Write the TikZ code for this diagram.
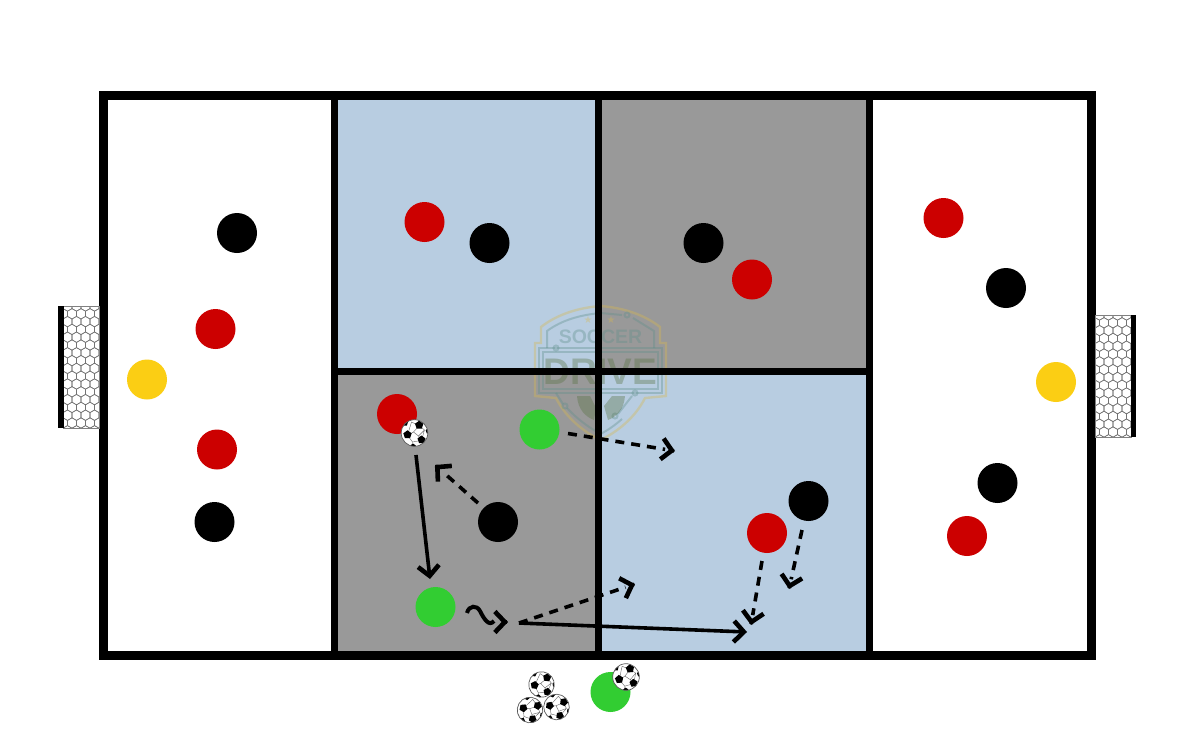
\documentclass[tikz,border=0pt]{standalone}
\usepackage{fontspec}
\setmainfont{Liberation Sans}
\newfontfamily\symfont{DejaVu Sans}
\usetikzlibrary{arrows.meta,calc}
\definecolor{zoneblue}{HTML}{B8CDE1}
\definecolor{zonegray}{HTML}{999999}
\definecolor{pred}{HTML}{CC0000}
\definecolor{pgreen}{HTML}{32CD32}
\definecolor{pyellow}{HTML}{FBCE14}
\definecolor{wmgold}{HTML}{D9B94E}
\definecolor{wmteal}{HTML}{5F8F8A}
\definecolor{wmdark}{HTML}{56703F}
\newcommand{\penta}[3]{\fill[black] (#1,#2) ++(90:#3) -- ++(-36:#3*1.17) -- ++(-108:#3*1.17) -- ++(-180:#3*1.17) -- ++(108:#3*1.17) -- cycle;}
% dashed run: shaft stops short of its end, then the open head stands apart
\newcommand{\runline}[2]{%
  \draw[runshaft,shorten >=10pt] (#1) -- (#2);
  \draw[chev,line width=3.6pt,draw=black] ($(#2)!1pt!(#1)$) -- (#2);}
\tikzset{
  player/.style={circle,minimum size=40pt,inner sep=0pt,draw=none},
  blackp/.style={player,fill=black},
  redp/.style={player,fill=pred},
  greenp/.style={player,fill=pgreen},
  yellowp/.style={player,fill=pyellow},
  fieldline/.style={line width=7pt,draw=black},
  chev/.style={-{Straight Barb[length=10pt,width=21pt,line width=4.6pt]}},
  passarrow/.style={chev,line width=3.6pt,draw=black},
  runshaft/.style={line width=3.6pt,draw=black,dash pattern=on 9pt off 7pt},
  ballpic/.pic={
    \begin{scope}
      \clip (0,0) circle (13.3);
      \fill[white] (0,0) circle (13.3);
      \draw[black!60,line width=.4pt] (4.7,-7.3) -- (-1,-1) -- (-7,2.3) (-1,-1) -- (4,3) -- (7,7.3) (4,3) -- (10,-3) -- (4.7,-7.3) (-7,2.3) -- (-2,9) -- (7,7.3) (-2,9) -- (-2,13) (4.7,-7.3) -- (-3,-11) -- (-7,2.3) (10,-3) -- (7,7.3);
      \penta{4.7}{-7.9}{-4.4}
      \penta{-7}{1.7}{-4.4}
      \penta{7}{6.7}{-4.2}
      \penta{-9.5}{-10}{-3.2}
      \penta{-1.5}{13.5}{-3}
      \penta{14}{-2}{-3}
    \end{scope}
    \draw[black!65,line width=.7pt] (0,0) circle (13.3);
  },
  netpic/.pic={
    \begin{scope}
      \clip (0,0) rectangle (36,122);
      \fill[white] (0,0) rectangle (36,122);
      \foreach \r in {0,...,16}{
        \foreach \c in {-1,...,4}{
          \pgfmathsetmacro{\hx}{\c*9+mod(\r,2)*4.5+4.5}
          \pgfmathsetmacro{\hy}{\r*7.8}
          \draw[black!55,line width=.55pt] (\hx-4.5,\hy-2.6) -- (\hx,\hy-5.2) -- (\hx+4.5,\hy-2.6) -- (\hx+4.5,\hy+2.6) -- (\hx,\hy+5.2) -- (\hx-4.5,\hy+2.6) -- cycle;
        }
      }
    \end{scope}
    \draw[black!50,line width=.6pt] (0,0) rectangle (36,122);
  }
}
\begin{document}
\begin{tikzpicture}[x=1pt,y=-1pt]
\useasboundingbox (0,0) rectangle (1200,750);
\fill[white] (0,0) rectangle (1200,750);

% zones
\fill[zoneblue] (334,95) rectangle (598,371);
\fill[zonegray] (598,95) rectangle (869,371);
\fill[zonegray] (334,371) rectangle (598,655);
\fill[zoneblue] (598,371) rectangle (869,655);

% watermark
\begin{scope}[opacity=.36]
  \draw[wmgold,line width=2.4pt] (600.5,306) .. controls (575,308) and (555,316) .. (541,327) -- (541,343) -- (535,343) -- (535,396) -- (556,398) .. controls (566,418) and (584,432) .. (600.5,440) .. controls (617,432) and (635,418) .. (645,398) -- (666,396) -- (666,343) -- (660,343) -- (660,327) .. controls (646,316) and (626,308) .. (600.5,306) -- cycle;
  \draw[wmteal,line width=2pt] (600.5,313) .. controls (580,315) and (562,320) .. (547,331) -- (547,348);
  \draw[wmteal,line width=2pt] (600.5,313) -- (622,315);
  \draw[wmteal,line width=2pt] (633,318) -- (654,331) -- (654,348);
  \draw[wmteal,line width=2pt] (539,348) rectangle (662,393);
  \draw[wmteal,line width=1.2pt] (543,352) rectangle (658,389);
  \draw[wmteal,line width=2pt] (556,348) circle (2.5);
  \draw[wmteal,line width=2pt] (627,315) circle (2.5);
  \draw[wmteal,line width=2pt] (635,393) circle (2.5);
  \draw[wmteal,line width=2pt] (565,406) circle (2.5);
  \draw[wmteal,line width=2pt] (615,416) circle (2.5);
  \draw[wmteal,line width=2pt] (556,393) -- (563,404) (567,408) .. controls (578,420) and (590,428) .. (600.5,434) .. controls (608,430) and (614,426) .. (622,419) (618,414) -- (632,396);
  \fill[wmdark] (577,396) .. controls (578,410) and (586,417) .. (594,420) -- (596,408) -- (590,396) -- cycle;
  \fill[wmdark] (625,396) .. controls (624,410) and (616,417) .. (608,420) -- (604,406) -- (612,396) -- cycle;
  \node[font=\symfont\fontsize{10}{10}\selectfont,text=wmgold,inner sep=0pt] (wmstara) at (588,320) {★};
  \node[font=\symfont\fontsize{10}{10}\selectfont,text=wmgold,inner sep=0pt] (wmstarb) at (611,320) {★};
  \node[font=\bfseries\fontsize{19.5}{20}\selectfont,text=wmteal,inner sep=0pt] (wmsoccer) at (600.5,337) {SOCCER};
  \node[font=\bfseries\fontsize{37}{37}\selectfont,text=wmdark,inner sep=0pt] (wmdrive) at (600.5,372) {DRIVE};
\end{scope}

% lines
\draw[fieldline] (334,95) -- (334,655);
\draw[fieldline] (598,95) -- (598,655);
\draw[fieldline] (869,95) -- (869,655);
\draw[fieldline] (334,371) -- (869,371);
\draw[black,line width=9pt] (103,95) rectangle (1091,655);

% goals
\pic at (63,306) {netpic};
\fill[black] (58,306) rectangle (63.5,428);
\pic at (1095,315) {netpic};
\fill[black] (1131,315) rectangle (1136,437);

% players
\node[blackp] (b1) at (237,233) {};
\node[blackp] (b2) at (214.5,522) {};
\node[blackp] (b3) at (489.5,243) {};
\node[blackp] (b4) at (703.5,243) {};
\node[blackp] (b5) at (498,522) {};
\node[blackp] (b6) at (808.5,501) {};
\node[blackp] (b7) at (1006,288) {};
\node[blackp] (b8) at (997.5,483) {};
\node[redp] (r1) at (215.5,329) {};
\node[redp] (r2) at (217,449.5) {};
\node[redp] (r3) at (424.5,222) {};
\node[redp] (r4) at (752,279.5) {};
\node[redp] (r5) at (397,414) {};
\node[redp] (r6) at (767,533) {};
\node[redp] (r7) at (943.5,218) {};
\node[redp] (r8) at (967,536) {};
\node[yellowp] (y1) at (147,379.5) {};
\node[yellowp] (y2) at (1056,382) {};
\node[greenp] (g1) at (539.5,429.5) {};
\node[greenp] (g2) at (435.5,607) {};
\node[greenp] (g3) at (610.5,692) {};

% balls
\pic at (414.5,433) {ballpic};
\pic[rotate=-8,scale=.96] at (541.5,684.5) {ballpic};
\pic[rotate=-30,scale=.96] at (530,710) {ballpic};
\pic[rotate=-25,scale=.96] at (556.5,707) {ballpic};
\pic[rotate=5] at (626,677) {ballpic};

% connector ends
\coordinate (s1) at (416,455);
\coordinate (t1) at (430,579);
\coordinate (s2) at (478,503);
\coordinate (t2) at (435,465);
\coordinate (s3) at (568,433.5);
\coordinate (t3) at (675,451);
\coordinate (s4) at (519,623);
\coordinate (t4) at (635,584);
\coordinate (t5) at (747,632);
\coordinate (s6) at (762,561);
\coordinate (t6) at (751,625);
\coordinate (s7) at (802,530);
\coordinate (t7) at (789,589);
\coordinate (w1) at (467,613);
\coordinate (w2) at (507,622);
\coordinate (t8) at (508,622);

\draw[passarrow] (s1) -- (t1);
\draw[passarrow] (s4) -- (t5);
\runline{s2}{t2}
\runline{s3}{t3}
\runline{s4}{t4}
\runline{s6}{t6}
\runline{s7}{t7}
\draw[black,line width=4pt] (w1) .. controls (469,605) and (477,605) .. (480,611) .. controls (484,619) and (489,627) .. (494,621);
\draw[chev,line width=3.6pt,draw=black] (w2) -- (t8);
\end{tikzpicture}
\end{document}
